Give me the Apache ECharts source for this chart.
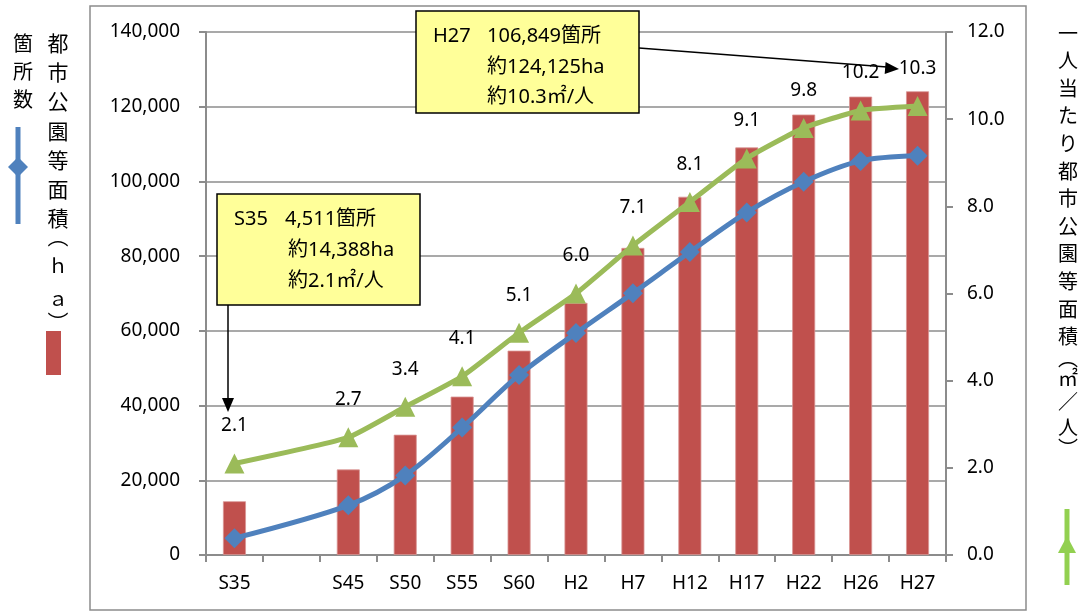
<!DOCTYPE html>
<html>
<head>
<meta charset="utf-8">
<script src="https://cdn.jsdelivr.net/npm/echarts@6/dist/echarts.min.js"></script>
<style>
  html, body { margin: 0; padding: 0; background: #fff; }
  #chart { width: 1083px; height: 612px; }
</style>
</head>
<body>
<div id="chart"></div>
<script>
const categories = ["S35", "", "S45", "S50", "S55", "S60", "H2", "H7", "H12", "H17", "H22", "H26", "H27"];
const parkArea = [14388, null, 22900, 32200, 42400, 54700, 67500, 82200, 95900, 109100, 117900, 122700, 124125];
const parkCount = [4511, null, 13300, 21300, 34100, 48200, 59400, 70100, 81100, 91700, 99900, 105500, 106849];
const perPerson = [2.1, null, 2.7, 3.4, 4.1, 5.1, 6.0, 7.1, 8.1, 9.1, 9.8, 10.2, 10.3];
const leftTicks = {min: 0, max: 140000, interval: 20000};
const rightTicks = {min: 0, max: 12, interval: 2};

const FONT = "'Noto Sans', 'Noto Sans CJK JP', sans-serif";
const JP = "'Noto Sans CJK JP', sans-serif";
const GRAY = "#8c8c8c";
const BLUE = "#4F81BD";
const RED = "#C0504D";
const GREEN = "#9BBB59";

const chart = echarts.init(document.getElementById("chart"));

// vertical text helper
function vText(str, x, y0, step, size) {
    return str.split("").map((ch, i) => ({
        type: "text",
        x: x,
        y: y0 + i * step,
        style: {text: ch, font: size + "px " + JP, fill: "#000", align: "center", verticalAlign: "middle"}
    }));
}

function boxText(str, x, y) {
    return {
        type: "text", x: x, y: y, z: 12,
        style: {text: str, font: "20px " + FONT, fill: "#000", align: "left", verticalAlign: "middle"}
    };
}

const graphics = [
    {type: "rect", shape: {x: 90, y: 6, width: 936, height: 604}, style: {fill: "none", stroke: GRAY, lineWidth: 1.5}, z: -1},
    // left titles
    ...vText("箇所数", 23, 43, 28, 20),
    ...vText("都市公園等面積", 58, 43, 29.2, 21),
    ...vText("︵", 58, 236, 0, 21),
    ...vText("ｈ", 58, 265, 0, 20),
    ...vText("ａ", 58, 298, 0, 20),
    ...vText("︶", 58, 322, 0, 21),
    {type: "line", shape: {x1: 18, y1: 127, x2: 18, y2: 224}, style: {stroke: BLUE, lineWidth: 5}},
    {type: "polygon", shape: {points: [[18, 157], [28, 167], [18, 177], [8, 167]]}, style: {fill: BLUE}},
    {type: "rect", shape: {x: 46, y: 331, width: 15, height: 44}, style: {fill: RED}},
    // right title
    ...vText("一人当たり都市公園等面積", 1068, 33, 27.6, 20),
    ...vText("︵", 1068, 358, 0, 20),
    ...vText("㎡", 1068, 378, 0, 20),
    ...vText("／", 1068, 401, 0, 20),
    ...vText("人", 1068, 427, 0, 20),
    ...vText("︶", 1068, 448, 0, 20),
    {type: "line", shape: {x1: 1067, y1: 509, x2: 1067, y2: 585}, style: {stroke: "#92D050", lineWidth: 5}},
    {type: "polygon", shape: {points: [[1067, 536], [1076, 553], [1058, 553]]}, style: {fill: "#92D050"}},
    // annotation S35
    {type: "rect", shape: {x: 217, y: 194, width: 203, height: 111}, style: {fill: "#FFFF99", stroke: "#000", lineWidth: 1.5}, z: 10},
    boxText("S35", 234, 219),
    boxText("4,511箇所", 285, 219),
    boxText("約14,388ha", 288, 250),
    boxText("約2.1㎡/人", 288, 281),
    {type: "line", shape: {x1: 228, y1: 305, x2: 228, y2: 400}, style: {stroke: "#000", lineWidth: 1.5}, z: 10},
    {type: "polygon", shape: {points: [[222, 398], [234, 398], [228, 412]]}, style: {fill: "#000"}, z: 10},
    // annotation H27
    {type: "rect", shape: {x: 416, y: 11, width: 223, height: 102}, style: {fill: "#FFFF99", stroke: "#000", lineWidth: 1.5}, z: 10},
    boxText("H27", 433, 36),
    boxText("106,849箇所", 487, 36),
    boxText("約124,125ha", 487, 67),
    boxText("約10.3㎡/人", 487, 97),
    {type: "line", shape: {x1: 639, y1: 48, x2: 887, y2: 67}, style: {stroke: "#000", lineWidth: 1.5}, z: 10},
    {type: "polygon", shape: {points: [[899, 69], [885.6, 62], [884.7, 74]]}, style: {fill: "#000"}, z: 10}
];

chart.setOption({
    animation: false,
    textStyle: {fontFamily: FONT},
    grid: {left: 206, right: 137, top: 32, bottom: 57},
    xAxis: {
        type: "category",
        data: categories,
        boundaryGap: true,
        axisLine: {lineStyle: {color: GRAY, width: 2}},
        axisTick: {show: true, length: 7, interval: 0, lineStyle: {color: GRAY, width: 2}},
        axisLabel: {interval: 0, fontSize: 19, color: "#000", margin: 19, fontFamily: FONT}
    },
    yAxis: [
        {
            type: "value",
            min: leftTicks.min, max: leftTicks.max, interval: leftTicks.interval,
            axisLine: {show: true, lineStyle: {color: GRAY, width: 2}},
            axisTick: {show: true, length: 7, lineStyle: {color: GRAY, width: 2}},
            axisLabel: {fontSize: 19, color: "#000", margin: 26, fontFamily: FONT,
                formatter: v => v.toLocaleString("en-US")},
            splitLine: {lineStyle: {color: GRAY, width: 1.5}}
        },
        {
            type: "value",
            min: rightTicks.min, max: rightTicks.max, interval: rightTicks.interval,
            axisLine: {show: true, lineStyle: {color: GRAY, width: 2}},
            axisTick: {show: true, length: 7, lineStyle: {color: GRAY, width: 2}},
            axisLabel: {fontSize: 19, color: "#000", margin: 21, fontFamily: FONT,
                formatter: v => v.toFixed(1)},
            splitLine: {show: false}
        }
    ],
    series: [
        {
            name: "都市公園等面積",
            type: "bar",
            yAxisIndex: 0,
            data: parkArea,
            barWidth: 23,
            itemStyle: {color: RED, borderColor: "#D99694", borderWidth: 0.8}
        },
        {
            name: "箇所数",
            type: "line",
            yAxisIndex: 0,
            data: parkCount,
            connectNulls: true,
            smooth: 0.3,
            symbol: "diamond",
            symbolSize: 20,
            lineStyle: {color: BLUE, width: 5},
            itemStyle: {color: BLUE},
            z: 3
        },
        {
            name: "一人当たり都市公園等面積",
            type: "line",
            yAxisIndex: 1,
            data: perPerson,
            connectNulls: true,
            smooth: 0.15,
            symbol: "triangle",
            symbolSize: 20,
            lineStyle: {color: GREEN, width: 5},
            itemStyle: {color: GREEN},
            label: {show: true, position: "top", distance: 18, fontSize: 19, color: "#000",
                fontFamily: FONT, formatter: p => p.value.toFixed(1)},
            z: 4
        }
    ],
    graphic: graphics
});
</script>
</body>
</html>
